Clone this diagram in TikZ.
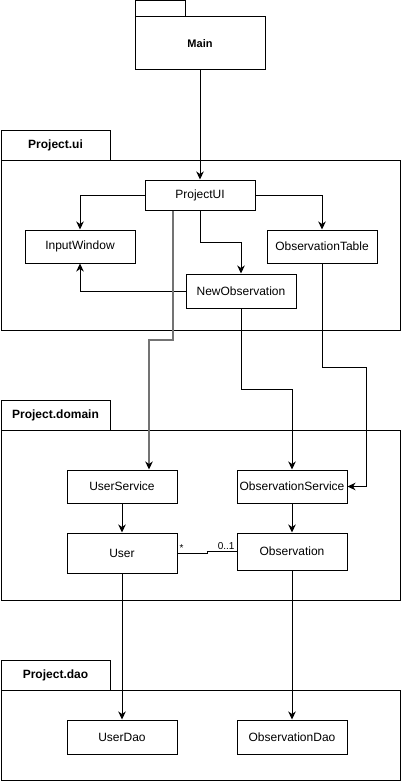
\documentclass[tikz,border=0pt]{standalone}
\usepackage{fontspec}
\setmainfont{Liberation Sans}
\usetikzlibrary{arrows.meta,positioning}

\begin{document}
\begin{tikzpicture}[
        x=1pt, y=-1pt,
        line width=1pt,
        class box/.style = {
            draw,
            minimum width=110pt,
            inner sep=0pt,
            font=\fontsize{12}{14}\selectfont},
        pkg label/.style = {
            font=\bfseries\fontsize{12}{14}\selectfont},
        mult/.style = {
            inner sep=1.5pt,
            font=\fontsize{10}{12}\selectfont},
        uses/.style = {-{Stealth[length=8pt,width=7.5pt,inset=2.5pt,color=black]}}
    ]
    \useasboundingbox (0,0) rectangle (401,781);

    % Main package
    \draw (135,1) rectangle (185,17);
    \node[draw, minimum width=130pt, minimum height=53pt,
        font=\bfseries\fontsize{11}{13}\selectfont] (main) at (200,43.5) {Main};

    % Project.ui package
    \draw (1,130) rectangle (110,160);
    \draw (1,160) rectangle (400,330);
    \node[pkg label] (uilabel) at (55.5,145) {Project.ui};
    \node[class box, minimum height=30pt] (projectui) at (200,195) {ProjectUI};
    \node[class box, minimum height=33pt] (inputwindow) at (80,246.5) {InputWindow};
    \node[class box, minimum height=33pt] (obstable) at (322,246.5) {ObservationTable};
    \node[class box, minimum height=34pt] (newobs) at (241,291) {NewObservation};

    % Project.domain package
    \draw (1,400) rectangle (110,430);
    \draw (1,430) rectangle (400,600);
    \node[pkg label] (domainlabel) at (55.5,415) {Project.domain};
    \node[class box, minimum height=33pt] (userservice) at (122,486.5) {UserService};
    \node[class box, minimum height=33pt] (obsservice) at (292,486.5) {ObservationService};
    \node[class box, minimum height=40pt] (user) at (122,553) {User};
    \node[class box, minimum height=37pt] (observation) at (292,551.5) {Observation};

    % Project.dao package
    \draw (1,660) rectangle (110,690);
    \draw (1,690) rectangle (400,780);
    \node[pkg label] (daolabel) at (55.5,675) {Project.dao};
    \node[class box, minimum height=34pt] (userdao) at (122,737) {UserDao};
    \node[class box, minimum height=34pt] (obsdao) at (292,737) {ObservationDao};

    % dependencies
    \coordinate (userbend) at (149,340);
    \coordinate (tablebend) at (366,367);
    \draw[uses] (main) -- (projectui);
    \draw[uses] (projectui.west) -| (inputwindow);
    \draw[uses] (projectui.east) -| (obstable);
    \draw[uses] (projectui.south) -- ++(0,32) -| (newobs);
    \draw[uses] (newobs.west) -| (inputwindow);
    \draw[uses, draw=black!55, line width=1.3pt] ([xshift=-27pt]projectui.south) |- (userbend)
        -- (userbend |- userservice.north);
    \draw[uses] (newobs.south) -- ++(0,81) -| (obsservice);
    \draw[uses] (obstable.south) |- (tablebend) |- (obsservice.east);
    \draw[uses] (userservice) -- (user);
    \draw[uses] (obsservice) -- (observation);
    \draw[uses] (user) -- (userdao);
    \draw[uses] (observation) -- (obsdao);

    % association
    \draw (user.east) -- ++(30,0) |- (observation.west);
    \node[mult, above right] (manyend) at (user.east) {*};
    \node[mult, above left] (oneend) at (observation.west) {0..1};
\end{tikzpicture}
\end{document}
